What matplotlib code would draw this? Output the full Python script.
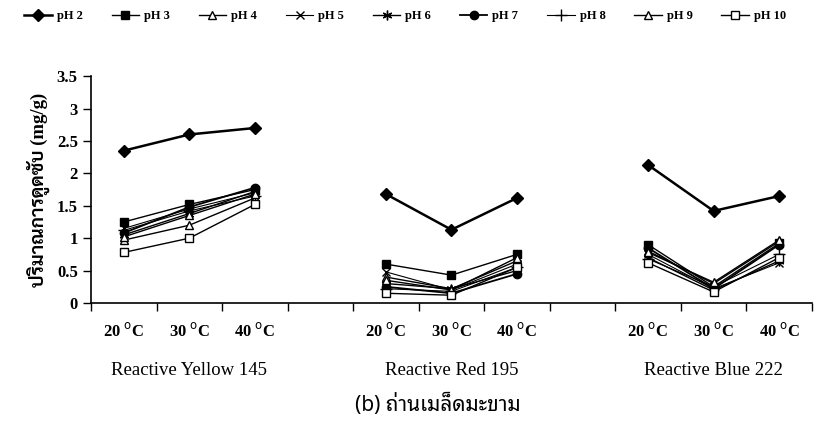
#!/usr/bin/env python3
"""Adsorption capacity of reactive dyes on tamarind seed charcoal, by pH and temperature."""

import matplotlib

matplotlib.use("Agg")
import matplotlib.pyplot as plt
import matplotlib.transforms as mtransforms
import numpy as np

plt.rcParams["font.family"] = ["Liberation Serif", "Sarabun", "DejaVu Sans"]

temps = ["20 $^{\\mathrm{o}}$C", "30 $^{\\mathrm{o}}$C", "40 $^{\\mathrm{o}}$C"]
dyes = ["Reactive Yellow 145", "Reactive Red 195", "Reactive Blue 222"]
series_names = ["pH 2", "pH 3", "pH 4", "pH 5", "pH 6", "pH 7", "pH 8", "pH 9", "pH 10"]

# values per pH: yellow 20/30/40, red 20/30/40, blue 20/30/40 (mg/g)
ph2 = [2.35, 2.60, 2.70, 1.68, 1.13, 1.62, 2.13, 1.42, 1.65]
ph3 = [1.25, 1.52, 1.75, 0.60, 0.43, 0.75, 0.90, 0.25, 0.92]
ph4 = [0.97, 1.20, 1.62, 0.40, 0.22, 0.65, 0.80, 0.30, 0.95]
ph5 = [1.15, 1.45, 1.70, 0.48, 0.20, 0.60, 0.75, 0.22, 0.62]
ph6 = [1.05, 1.38, 1.72, 0.30, 0.22, 0.50, 0.70, 0.20, 0.65]
ph7 = [1.08, 1.48, 1.78, 0.25, 0.15, 0.45, 0.85, 0.22, 0.90]
ph8 = [1.12, 1.42, 1.65, 0.22, 0.18, 0.55, 0.68, 0.25, 0.75]
ph9 = [1.02, 1.35, 1.68, 0.35, 0.20, 0.70, 0.78, 0.32, 0.97]
ph10 = [0.78, 1.00, 1.52, 0.15, 0.12, 0.55, 0.62, 0.17, 0.70]
all_series = [ph2, ph3, ph4, ph5, ph6, ph7, ph8, ph9, ph10]

styles = [
    dict(marker="D", mfc="black", ms=6, lw=1.8),
    dict(marker="s", mfc="black", ms=5.5, lw=1.0),
    dict(marker="^", mfc="white", ms=6, lw=1.0),
    dict(marker="x", mfc="black", ms=6, lw=0.8),
    dict(marker=(6, 2, 0), mfc="black", ms=7, lw=1.0),
    dict(marker="o", mfc="black", ms=6, lw=1.3),
    dict(marker="+", mfc="black", ms=8, lw=0.8),
    dict(marker="^", mfc="white", ms=6, lw=1.0),
    dict(marker="s", mfc="white", ms=5.5, lw=1.0),
]


def main():
    fig = plt.figure(figsize=(8.16, 4.23), dpi=100)
    ax = fig.add_axes([0.1115, 0.2837, 0.8835, 0.5363])

    # 11 category slots, gaps between the dye groups
    xpos = [0, 1, 2, 4, 5, 6, 8, 9, 10]
    handles = []
    for vals, st in zip(all_series, styles):
        line = None
        for g in range(3):
            xs = xpos[g * 3:(g + 1) * 3]
            ys = vals[g * 3:(g + 1) * 3]
            line, = ax.plot(xs, ys, color="black", linewidth=st["lw"],
                            marker=st["marker"], markersize=st["ms"],
                            markerfacecolor=st["mfc"], markeredgecolor="black",
                            markeredgewidth=1.0)
        handles.append(line)

    ax.set_xlim(-0.5, 10.5)
    ax.set_ylim(0, 3.5)
    ax.set_yticks(np.arange(0, 3.51, 0.5))
    ax.set_yticklabels(["0", "0.5", "1", "1.5", "2", "2.5", "3", "3.5"],
                       fontsize=12, fontweight="bold")
    ax.set_xticks(np.arange(-0.5, 11, 1.0))
    ax.set_xticklabels([])
    ax.set_xticks(xpos, minor=True)
    ax.set_xticklabels(temps * 3, minor=True, fontsize=12, fontweight="bold")
    ax.tick_params(axis="x", which="minor", length=0, pad=14)
    ax.tick_params(axis="x", which="major", length=6, width=1.0)
    ax.tick_params(axis="y", length=6, width=1.0)
    for s in ("top", "right"):
        ax.spines[s].set_visible(False)
    for s in ("left", "bottom"):
        ax.spines[s].set_linewidth(1.2)

    ax.set_ylabel("ปริมาณการดูดซับ (mg/g)", fontsize=13.5, fontweight="bold",
                  labelpad=5)

    trans = mtransforms.blended_transform_factory(ax.transData, fig.transFigure)
    for i, dye in enumerate(dyes):
        ax.text(xpos[i * 3 + 1], 0.125, dye, transform=trans,
                ha="center", va="center", fontsize=13.5)
    fig.text(0.536, 0.043, "(b) ถ่านเมล็ดมะขาม", ha="center", va="center",
             fontsize=15, family=["Noto Sans Thai Looped", "DejaVu Sans"])

    fig.legend(handles, series_names, loc="center left", bbox_to_anchor=(0.03, 0.962),
               ncol=9, frameon=False, handlelength=2.2, handletextpad=0.4,
               columnspacing=2.3, borderaxespad=0, borderpad=0,
               prop=dict(size=9, weight="bold"))

    fig.savefig("out.png", dpi=100)
    plt.close(fig)


if __name__ == "__main__":
    main()
